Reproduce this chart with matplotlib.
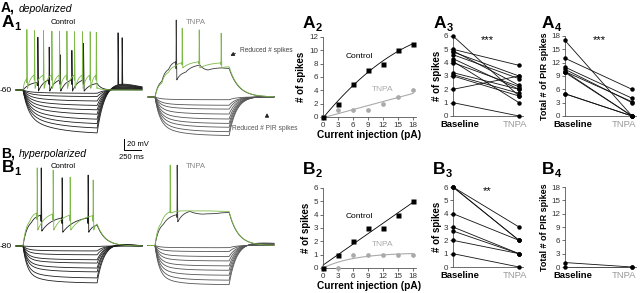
import numpy as np
import matplotlib
matplotlib.use("Agg")
import matplotlib.pyplot as plt

plt.rcParams['font.family'] = ['Liberation Sans', 'DejaVu Sans']

# ================= DATA =================
current_pA = [0, 3, 6, 9, 12, 15, 18]
A2_control = [0, 2, 5, 7, 8, 10, 11]
A2_tnpa = [0, 1, 1, 1, 2, 3, 4]
B2_control = [0, 1, 2, 3, 3, 4, 5]
B2_tnpa = [0, 0, 1, 1, 1, 1, 1]

A3_baseline = [6, 5, 4.8, 4.6, 4.9, 4.3, 4.1, 4.0, 3.25, 3.1, 3.0, 2.0, 1.0]
A3_tnpa = [1.5, 3.8, 3.0, 2.8, 2.3, 2.0, 1.0, 2.2, 2.0, 1.7, 1.5, 3.0, 0.0]
A4_baseline = [17, 13, 11, 10.5, 10, 10, 9.8, 5, 5]
A4_tnpa = [0, 6, 4, 3, 3.2, 0, 0, 0, 0]
B3_baseline = [6, 6, 6, 4, 3, 2.7, 2, 1]
B3_tnpa = [3, 2, 2, 2, 1, 1, 1, 0]
B4_baseline = [1, 0]
B4_tnpa = [0, 0]

group_labels = ['Baseline', 'TNPA']

# ---- example traces (mV relative to holding potential; ms) ----
STEP_MS = 1090
END_MS = 1750
PRE_MS = 100

A1_ctrl_hyper = [-6, -12, -20, -28, -36, -44, -53, -61, -69, -78]
A1_tnpa_hyper = [-5, -15, -22, -31, -40, -48, -55, -63, -70]
B1_ctrl_hyper = [-1, -9, -16, -25, -31, -40, -47, -58, -67]
B1_tnpa_hyper = [-4, -11, -20, -28, -37, -45, -54, -63, -71]

A1_ctrl_pir_idx = [9, 8]
A1_ctrl_pir_t = [1395, 1455]
A1_ctrl_pir_v = [104, 95]

A1_ctrl_green_spk_t = [54, 166, 299, 422, 534, 643, 755, 872, 985, 1075]
A1_ctrl_green_spk_v = [110, 108, 108, 107, 107, 107, 106, 106, 106, 105]
A1_ctrl_green_pre = [20, 27, 27, 27, 27, 27, 27, 27, 27, 27]
A1_ctrl_green_trough = [3, 3, 3, 3, 3, 3, 3, 3, 3, 3]

A1_ctrl_black_spk_t = [216, 382, 544, 716, 887]
A1_ctrl_black_spk_v = [96, 78, 64, 72, 85]
A1_ctrl_black_pre = [14, 18, 18, 18, 18]
A1_ctrl_black_trough = [-2, -2, -2, -2, -2]

A1_tnpa_green_spk_t = [397, 647, 970]
A1_tnpa_green_spk_v = [125, 122, 116]
A1_tnpa_green_pre = [62, 64, 62]
A1_tnpa_green_trough = [53, 53, 53]
A1_tnpa_green_sub_t = [100, 200, 300]
A1_tnpa_green_sub_v = [25, 45, 56]

A1_tnpa_black_spk_t = [309]
A1_tnpa_black_spk_v = [140]
A1_tnpa_black_pre = [64]
A1_tnpa_black_trough = [31]
A1_tnpa_black_sub_t = [100, 200, 450, 662, 780, 985]
A1_tnpa_black_sub_v = [28, 50, 45, 58, 49, 53]

B1_ctrl_green_spk_t = [206, 441, 691, 1029]
B1_ctrl_green_spk_v = [142, 138, 125, 120]
B1_ctrl_green_pre = [60, 58, 56, 55]
B1_ctrl_green_trough = [29, 29, 29, 29]
B1_ctrl_green_sub_t = [100]
B1_ctrl_green_sub_v = [45]

B1_ctrl_black_spk_t = [265, 573, 955]
B1_ctrl_black_spk_v = [142, 124, 129]
B1_ctrl_black_pre = [56, 51, 51]
B1_ctrl_black_trough = [27, 25, 25]
B1_ctrl_black_sub_t = [120]
B1_ctrl_black_sub_v = [42]

B1_tnpa_green_spk_t = [220]
B1_tnpa_green_spk_v = [146]
B1_tnpa_green_pre = [61]
B1_tnpa_green_trough = [59]
B1_tnpa_green_sub_t = [90, 400, 800]
B1_tnpa_green_sub_v = [40, 63, 63]

B1_tnpa_black_spk_t = [323]
B1_tnpa_black_spk_v = [146]
B1_tnpa_black_pre = [56]
B1_tnpa_black_trough = [43]
B1_tnpa_black_sub_t = [120, 515, 700, 900]
B1_tnpa_black_sub_v = [38, 62, 57, 58]

# ================= FIGURE =================
W, H = 640, 293
fig = plt.figure(figsize=(6.4, 2.93), dpi=100)
fig.patch.set_facecolor('white')

MS_PX = 250 / 17.0
MV_PX = 20 / 11.0

GREEN = '#7dba4a'
DARK = '#1e1e1e'
GREY_TR = '#555555'

t = np.arange(-PRE_MS, END_MS, 1.0)


def ftext(x, y, s, **kw):
    return fig.text(x / W, 1 - y / H, s, **kw)


def px_axes(x0, ytop, w, h):
    return fig.add_axes([x0 / W, 1 - (ytop + h) / H, w / W, h / H])


def hyper(level, tau_f, tau_s, frac, tau_back, rebound, end_frac):
    v = np.zeros_like(t)
    on = (t >= 0) & (t < STEP_MS)
    tt = t[on]
    shape = frac * (1 - np.exp(-tt / tau_f)) + (1 - frac) * (1 - np.exp(-tt / tau_s))
    shape = shape / shape[-1]
    v[on] = level * shape
    v_off = v[on][-1]
    after = t >= STEP_MS
    ta = t[after] - STEP_MS
    end_v = level * end_frac
    v[after] = end_v + (v_off - end_v) * np.exp(-ta / tau_back) \
        + rebound * (-level) * (ta / 250.0) * np.exp(1 - ta / 250.0)
    return v


def add_spikes(v, spk_t, spk_v):
    for s, p in zip(spk_t, spk_v):
        i0 = int(np.searchsorted(t, s))
        b = v[i0]
        a = v[min(i0 + 12, len(v) - 1)]
        for k in range(4):
            v[i0 + k] = b + (p - b) * k / 3.0
        for k in range(4, 13):
            v[i0 + k] = p + (a - p) * (k - 3) / 9.0
    return v


def dep(spk_t, spk_v, pre, trough, sub_t, sub_v, off_v, tau_off, kshape=2.0):
    pts = [(0.0, 0.0)]
    for s, p0, tr in zip(spk_t, pre, trough):
        pts.append((s - 3.0, p0))
        pts.append((s + 12.0, tr))
    pts += list(zip(sub_t, sub_v))
    pts.append((float(STEP_MS), off_v))
    pts.sort()
    v = np.zeros_like(t)
    for (ta, va), (tb, vb) in zip(pts[:-1], pts[1:]):
        m = (t >= ta) & (t <= tb)
        u = (t[m] - ta) / max(tb - ta, 1e-9)
        v[m] = va + (vb - va) * (1 - np.exp(-kshape * u)) / (1 - np.exp(-kshape))
    after = t > STEP_MS
    v[after] = off_v * np.exp(-(t[after] - STEP_MS) / tau_off)
    return add_spikes(v, spk_t, spk_v)


# trace canvas in ms / mV units matching pixel grid
tr = fig.add_axes([0, 0, 300 / W, 1])
tr.set_xlim(0, 300 * MS_PX)
tr.set_ylim(-H * MV_PX, 0)
tr.axis('off')


def draw(v, x0, y0, color, lw=0.6, z=2):
    tr.plot(x0 * MS_PX + t, -y0 * MV_PX + v, color=color, lw=lw, zorder=z,
            solid_joinstyle='round')


# ---- A1 control ----
for i, lv in enumerate(A1_ctrl_hyper):
    v = hyper(lv, 80, 420, 0.6, 120, 0.25, 0.05)
    if i in A1_ctrl_pir_idx:
        j = A1_ctrl_pir_idx.index(i)
        v = add_spikes(v, [A1_ctrl_pir_t[j]], [A1_ctrl_pir_v[j]])
    draw(v, 23, 90, DARK)
draw(dep(A1_ctrl_black_spk_t, A1_ctrl_black_spk_v, A1_ctrl_black_pre, A1_ctrl_black_trough,
         [], [], 12, 60), 23, 90, DARK, z=3)
draw(dep(A1_ctrl_green_spk_t, A1_ctrl_green_spk_v, A1_ctrl_green_pre, A1_ctrl_green_trough,
         [], [], 4, 60), 23, 90, GREEN, z=4)

# ---- A1 TNPA ----
for lv in A1_tnpa_hyper:
    draw(hyper(lv, 70, 300, 0.7, 110, 0.02, 0.0), 155, 97, GREY_TR)
draw(dep(A1_tnpa_black_spk_t, A1_tnpa_black_spk_v, A1_tnpa_black_pre, A1_tnpa_black_trough,
         A1_tnpa_black_sub_t, A1_tnpa_black_sub_v, 52, 140), 155, 97, '#3a3a3a', z=3)
draw(dep(A1_tnpa_green_spk_t, A1_tnpa_green_spk_v, A1_tnpa_green_pre, A1_tnpa_green_trough,
         A1_tnpa_green_sub_t, A1_tnpa_green_sub_v, 55, 140), 155, 97, GREEN, z=4)

# ---- B1 control ----
for lv in B1_ctrl_hyper:
    draw(hyper(lv, 60, 300, 0.75, 100, 0.12, 0.05), 23, 246, DARK)
draw(dep(B1_ctrl_black_spk_t, B1_ctrl_black_spk_v, B1_ctrl_black_pre, B1_ctrl_black_trough,
         B1_ctrl_black_sub_t, B1_ctrl_black_sub_v, 38, 120), 23, 246, DARK, z=3)
draw(dep(B1_ctrl_green_spk_t, B1_ctrl_green_spk_v, B1_ctrl_green_pre, B1_ctrl_green_trough,
         B1_ctrl_green_sub_t, B1_ctrl_green_sub_v, 40, 120), 23, 246, GREEN, z=4)

# ---- B1 TNPA ----
for lv in B1_tnpa_hyper:
    draw(hyper(lv, 60, 250, 0.75, 110, 0.06, -0.03), 155, 245.5, GREY_TR)
draw(dep(B1_tnpa_black_spk_t, B1_tnpa_black_spk_v, B1_tnpa_black_pre, B1_tnpa_black_trough,
         B1_tnpa_black_sub_t, B1_tnpa_black_sub_v, 60, 130), 155, 245.5, '#3a3a3a', z=3)
draw(dep(B1_tnpa_green_spk_t, B1_tnpa_green_spk_v, B1_tnpa_green_pre, B1_tnpa_green_trough,
         B1_tnpa_green_sub_t, B1_tnpa_green_sub_v, 62, 130), 155, 245.5, GREEN, z=4)

# scale bar
sx, sy = 124 * MS_PX, -150 * MV_PX
tr.plot([sx, sx, sx + 250], [sy + 20, sy, sy], color='black', lw=0.7)
ftext(127, 145, '20 mV', fontsize=5.5, va='center', ha='left')
ftext(131, 157.5, '250 ms', fontsize=5.5, va='center', ha='center')

# trace labels
ftext(1, 12, 'A,', fontsize=10, fontweight='bold', va='baseline')
ftext(19, 12, 'depolarized', fontsize=7.5, style='italic', va='baseline')
ftext(1, 157, 'B,', fontsize=10, fontweight='bold', va='baseline')
ftext(19, 157, 'hyperpolarized', fontsize=7.5, style='italic', va='baseline')


def panel(x, yb, letter, sub):
    ftext(x, yb, letter, fontsize=12.5, fontweight='bold', va='baseline')
    ftext(x + 12.5, yb + 3, sub, fontsize=8, fontweight='bold', va='baseline')


panel(2, 27, 'A', '1')
panel(2, 172, 'B', '1')
ftext(63, 22, 'Control', fontsize=5.6, ha='center', va='center')
ftext(196, 22, 'TNPA', fontsize=5.6, ha='center', va='center', color='#888888')
ftext(63, 166, 'Control', fontsize=5.6, ha='center', va='center')
ftext(196, 166, 'TNPA', fontsize=5.6, ha='center', va='center', color='#888888')
ftext(12, 91, '-60', fontsize=6, ha='right', va='center')
ftext(12, 246, '-80', fontsize=6, ha='right', va='center')

ftext(240, 51, 'Reduced # spikes', fontsize=4.8, ha='left', va='center', color='#444444')
fig.add_artist(matplotlib.patches.FancyArrowPatch(
    (238 / W, 1 - 52 / H), (228 / W, 1 - 57 / H), transform=fig.transFigure,
    arrowstyle='-|>,head_length=2.2,head_width=1.2', color='#222222', lw=0.6))
ftext(232, 129, 'Reduced # PIR spikes', fontsize=4.8, ha='left', va='center', color='#555555')
fig.add_artist(matplotlib.patches.FancyArrowPatch(
    (267 / W, 1 - 120 / H), (267 / W, 1 - 110.5 / H), transform=fig.transFigure,
    arrowstyle='-|>,head_length=2.2,head_width=1.2', color='#222222', lw=0.6))

# ================= PLOTS =================
SPINE = '#555555'


def style(ax):
    for s in ['top', 'right']:
        ax.spines[s].set_visible(False)
    for s in ['left', 'bottom']:
        ax.spines[s].set_linewidth(0.6)
        ax.spines[s].set_color(SPINE)
    ax.tick_params(length=2, width=0.5, labelsize=5.8, colors='#333333', pad=1.5)
    ax.patch.set_alpha(0)


def fi_panel(ytop, ctrl, tnpa, ymax, ystep, ctrl_fit, tnpa_fit, lab_ctrl, lab_tnpa):
    ax = px_axes(323, ytop, 92.5, 80)
    style(ax)
    ax.set_xlim(0, 18.5)
    ax.set_ylim(0, ymax)
    ax.set_xticks(current_pA)
    ax.set_yticks(np.arange(0, ymax + 0.1, ystep))
    xs = np.linspace(0, 18, 100)
    ax.plot(xs, tnpa_fit(xs), color='#aaaaaa', lw=0.8, zorder=2, clip_on=False)
    ax.plot(xs, ctrl_fit(xs), color='black', lw=0.6, zorder=2, clip_on=False)
    ax.plot(current_pA, tnpa, 'o', color='#aaaaaa', ms=3.4, mec='none', zorder=3, clip_on=False)
    ax.plot(current_pA, ctrl, 's', color='black', ms=3.6, mec='none', zorder=4, clip_on=False)
    ax.text(lab_ctrl[0], lab_ctrl[1], 'Control', fontsize=6, ha='center', va='center')
    ax.text(lab_tnpa[0], lab_tnpa[1], 'TNPA', fontsize=6, ha='center', va='center', color='#aaaaaa')
    ax.set_ylabel('# of spikes', fontsize=7, fontweight='bold', labelpad=2)
    ax.set_xlabel('Current injection (pA)', fontsize=7.3, fontweight='bold', labelpad=1)
    return ax


def sat_fit(x, y):
    x = np.asarray(x, float)
    y = np.asarray(y, float)
    best = None
    for tau in np.linspace(0.5, 20, 400):
        g = 1 - np.exp(-x / tau)
        a = (g @ y) / (g @ g)
        err = np.sum((a * g - y) ** 2)
        if best is None or err < best[0]:
            best = (err, a, tau)
    _, a, tau = best
    return lambda xx: a * (1 - np.exp(-xx / tau))


fi_panel(37, A2_control, A2_tnpa, 12, 2,
         np.poly1d(np.polyfit(current_pA, A2_control, 2)),
         np.poly1d(np.polyfit(current_pA, A2_tnpa, 1)),
         (7.2, 9.0), (12.0, 4.1))
fi_panel(188, B2_control, B2_tnpa, 6, 1,
         np.poly1d(np.polyfit(current_pA, B2_control, 1)),
         sat_fit(current_pA, B2_tnpa),
         (7.2, 3.9), (12.0, 1.75))


def paired(x0, ytop, w_unit, base, tnpa, ymax, ystep, ylabel, ylfs, stars, tick_pos):
    ax = px_axes(x0, ytop, w_unit * 1.06, 80)
    style(ax)
    ax.set_xlim(0, 1.06)
    ax.set_ylim(0, ymax)
    ax.set_yticks(np.arange(0, ymax + 0.1, ystep))
    for b, a in zip(base, tnpa):
        ax.plot([0, 1], [b, a], color='#111111', lw=0.6, zorder=2, clip_on=False)
    ax.plot([0] * len(base), base, 'o', color='black', ms=3.2, mec='none', zorder=3, clip_on=False)
    ax.plot([1] * len(tnpa), tnpa, 'o', color='black', ms=3.2, mec='none', zorder=3, clip_on=False)
    ax.set_xticks(tick_pos)
    ax.set_xticklabels(group_labels)
    ax.tick_params(axis='x', length=0, pad=3)
    labs = ax.get_xticklabels()
    labs[0].set_fontweight('bold')
    labs[0].set_color('black')
    labs[0].set_fontsize(6.8)
    labs[1].set_color('#999999')
    labs[1].set_fontsize(6.8)
    ax.set_ylabel(ylabel, fontsize=ylfs, fontweight='bold', labelpad=1.5)
    ax.text(0.52, ymax * 0.95, stars, fontsize=8, ha='center', va='center')
    return ax


paired(453, 36, 66, A3_baseline, A3_tnpa, 6, 1, '# of spikes', 7, '***', [0.11, 0.94])
paired(565, 36, 67, A4_baseline, A4_tnpa, 18, 3, 'Total # of PIR spikes', 6.5, '***', [0.11, 0.88])
paired(453, 187, 66, B3_baseline, B3_tnpa, 6, 1, '# of spikes', 7, '**', [0.11, 0.94])
paired(565, 187, 67, B4_baseline, B4_tnpa, 18, 3, 'Total # of PIR spikes', 6.5, '', [0.11, 0.88])

panel(303, 28, 'A', '2')
panel(434, 28, 'A', '3')
panel(542, 28, 'A', '4')
panel(303, 174, 'B', '2')
panel(433, 174, 'B', '3')
panel(542, 174, 'B', '4')

fig.savefig('out.png', dpi=100, facecolor='white')
